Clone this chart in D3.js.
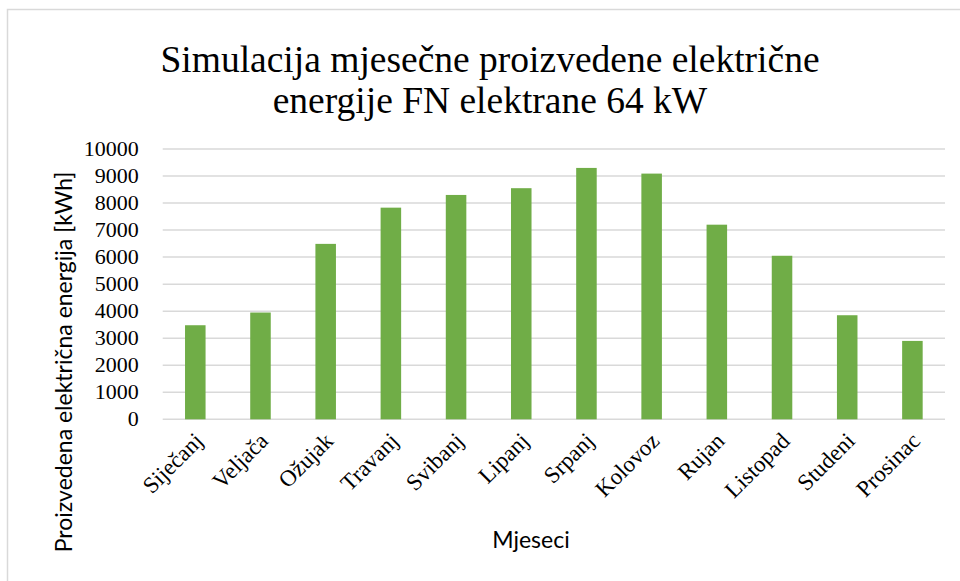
<!DOCTYPE html>
<html>
<head>
<meta charset="utf-8">
<script src="https://cdn.jsdelivr.net/npm/d3@7"></script>
</head>
<body style="margin:0">
<script>
// Monthly simulated output of a 64 kW PV plant
const months = ["Siječanj", "Veljača", "Ožujak", "Travanj", "Svibanj", "Lipanj",
  "Srpanj", "Kolovoz", "Rujan", "Listopad", "Studeni", "Prosinac"];
const energyKwh = [3480, 3950, 6490, 7830, 8300, 8550, 9300, 9090, 7200, 6050, 3850, 2900];
const yTicks = [0, 1000, 2000, 3000, 4000, 5000, 6000, 7000, 8000, 9000, 10000];
const titleLines = ["Simulacija mjesečne proizvedene električne", "energije FN elektrane 64 kW"];

const W = 960, H = 581;
const plot = { left: 162.7, right: 945, top: 149, bottom: 419.3 };
const SERIF = "Liberation Serif";
const SANS = "Lato";

const svg = d3.select("body").append("svg")
  .attr("width", W).attr("height", H);

// chart frame
svg.append("rect")
  .attr("x", 7.5).attr("y", 9.5)
  .attr("width", W + 10).attr("height", H + 10)
  .attr("fill", "#fff").attr("stroke", "#d9d9d9").attr("stroke-width", 1.5);

const x = d3.scaleBand()
  .domain(months)
  .range([plot.left, plot.right])
  .paddingInner(0.685)
  .paddingOuter(0.3425);

const y = d3.scaleLinear()
  .domain([0, 10000])
  .range([plot.bottom, plot.top]);

// gridlines
svg.append("g")
  .selectAll("line")
  .data(yTicks)
  .join("line")
  .attr("x1", plot.left).attr("x2", plot.right)
  .attr("y1", d => y(d)).attr("y2", d => y(d))
  .attr("stroke", "#d9d9d9").attr("stroke-width", 1.5);

// bars
svg.append("g")
  .selectAll("rect")
  .data(energyKwh)
  .join("rect")
  .attr("x", (d, i) => x(months[i]))
  .attr("y", d => y(d))
  .attr("width", x.bandwidth())
  .attr("height", d => y(0) - y(d))
  .attr("fill", "#70ad47");

// y axis labels
svg.append("g")
  .selectAll("text")
  .data(yTicks)
  .join("text")
  .attr("x", plot.left - 24)
  .attr("y", d => y(d))
  .attr("dy", "0.32em")
  .attr("text-anchor", "end")
  .attr("font-family", SERIF)
  .attr("font-size", 22)
  .attr("fill", "#000")
  .text(d3.format("d"));

// x axis labels (rotated)
svg.append("g")
  .selectAll("text")
  .data(months)
  .join("text")
  .attr("transform", d => `translate(${x(d) + x.bandwidth() / 2 + 9},${plot.bottom + 23}) rotate(-45)`)
  .attr("text-anchor", "end")
  .attr("font-family", SERIF)
  .attr("font-size", 23)
  .attr("fill", "#000")
  .text(d => d);

// title
svg.append("g")
  .selectAll("text")
  .data(titleLines)
  .join("text")
  .attr("x", 490)
  .attr("y", (d, i) => 72 + i * 41)
  .attr("text-anchor", "middle")
  .attr("font-family", SERIF)
  .attr("font-size", 37.5)
  .attr("fill", "#000")
  .text(d => d);

// axis titles
svg.append("text")
  .attr("transform", "translate(72,362) rotate(-90)")
  .attr("text-anchor", "middle")
  .attr("font-family", SANS)
  .attr("font-size", 23)
  .attr("fill", "#000")
  .text("Proizvedena električna energija [kWh]");

svg.append("text")
  .attr("x", 531).attr("y", 548)
  .attr("text-anchor", "middle")
  .attr("font-family", SANS)
  .attr("font-size", 23)
  .attr("fill", "#000")
  .text("Mjeseci");
</script>
</body>
</html>
